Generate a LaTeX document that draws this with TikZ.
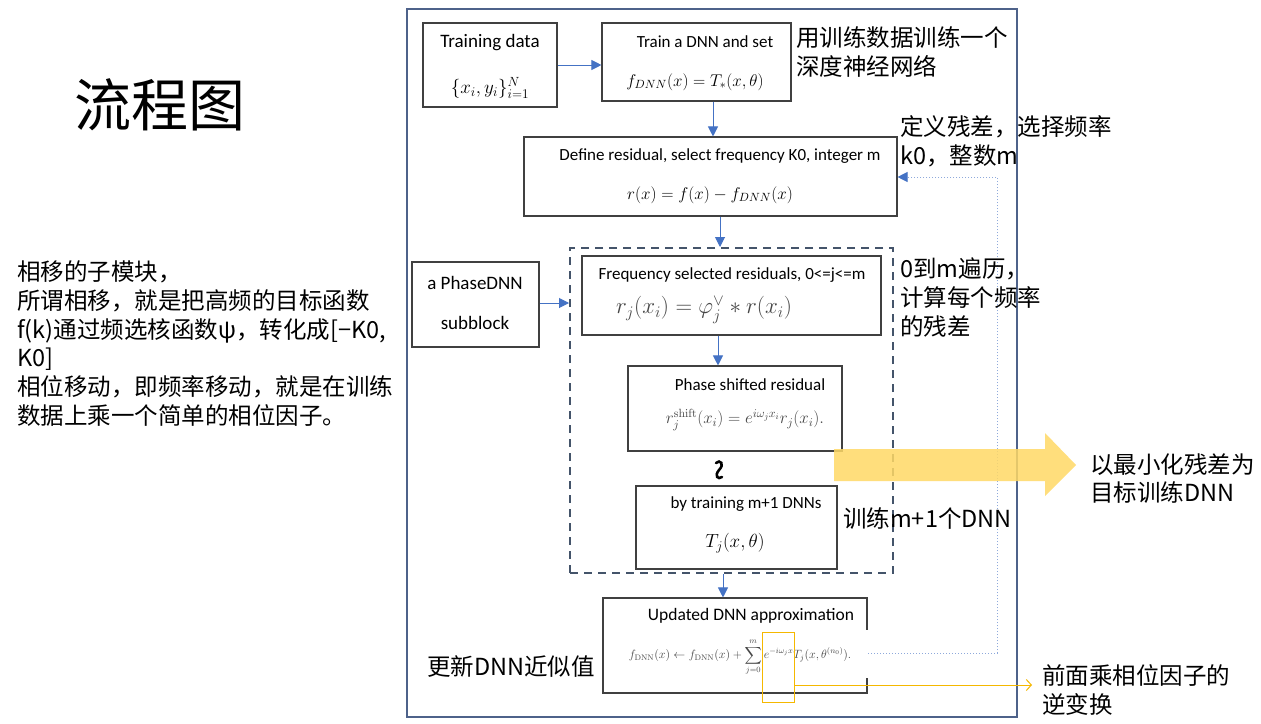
\RequirePackage{fix-cm}
\documentclass[tikz,border=0pt]{standalone}
\usepackage{amsmath}
\usepackage[no-math]{fontspec}
\setmainfont{Carlito}
\newfontfamily\cjk{Noto Sans CJK SC}
\usetikzlibrary{arrows.meta}
\definecolor{arrblue}{RGB}{68,114,196}
\definecolor{framec}{RGB}{78,98,138}
\definecolor{dashc}{RGB}{68,84,106}
\definecolor{boxc}{RGB}{64,64,64}
\definecolor{fbcol}{RGB}{142,169,219}
\definecolor{hlc}{RGB}{245,184,0}
\definecolor{bigy}{RGB}{255,217,102}
\definecolor{mgray}{RGB}{70,70,70}
\newcommand\fsz[1]{\fontsize{#1}{#1}\selectfont}
\begin{document}
\begin{tikzpicture}[x=1pt,y=-1pt,
  box/.style={draw=boxc,line width=1.1pt,inner sep=0pt},
  txt/.style={inner sep=0pt,text=black},
  gm/.style={inner sep=0pt,text=mgray},
  cn/.style={inner sep=0pt,anchor=west,align=left,text=black,font=\cjk\fontsize{23.5}{28.8}\selectfont},
  arr/.style={draw=arrblue,line width=1pt,-{Triangle[width=10pt,length=10pt]}},
  fb/.style={draw=fbcol,line width=1pt,dotted,-{Triangle[width=10pt,length=10pt,color=arrblue]}}]
\useasboundingbox (0,0) rectangle (1261,723);
\fill[white] (0,0) rectangle (1261,723);

% outer frame
\node[draw=framec,line width=2pt,minimum width=610pt,minimum height=708pt,inner sep=0pt] (frame) at (712,363) {};

% title and left text
\node[txt,font=\cjk\fsz{57}] (title) at (160,105) {流程图};
\node[cn] (lefttext) at (17,343.5) {相移的子模块，\\所谓相移，就是把高频的目标函数\\f(k)通过频选核函数ψ，转化成[−K0,\\K0]\\相位移动，即频率移动，就是在训练\\数据上乘一个简单的相位因子。};

% boxes
\node[box,minimum width=134pt,minimum height=84pt] (td) at (490,65) {};
\node[box,minimum width=189pt,minimum height=78pt] (tr) at (696.5,62) {};
\node[box,minimum width=373pt,minimum height=79pt] (dr) at (710.5,176.5) {};
\node[draw=dashc,line width=2pt,dash pattern=on 8pt off 6pt,minimum width=323pt,minimum height=325pt,inner sep=0pt] (dash) at (731.5,410.5) {};
\node[box,minimum width=299pt,minimum height=79pt] (fq) at (731.5,295.5) {};
\node[box,minimum width=214pt,minimum height=85pt] (ps) at (735,408.5) {};
\node[box,minimum width=201pt,minimum height=83pt] (tm) at (736.5,527.5) {};
\node[box,minimum width=264pt,minimum height=95pt] (up) at (735,645.5) {};
\node[box,minimum width=127pt,minimum height=85pt] (pd) at (475.5,304.5) {};

% box texts
\node[txt,font=\fsz{19}] at (490,43) {Training data};
\node[txt,font=\fsz{19}] at (490,88) {$\{x_i,y_i\}_{i=1}^{N}$};
\node[txt,font=\fsz{17}] at (705,42) {Train a DNN and set};
\node[txt,font=\fsz{17}] at (695,82) {$f_{DNN}(x)=T_{*}(x,\theta)$};
\node[txt,font=\fsz{17}] at (720,156) {Define residual, select frequency K0, integer m};
\node[txt,font=\fsz{17}] at (710,195) {$r(x)=f(x)-f_{DNN}(x)$};
\node[txt,font=\fsz{17}] at (732,275) {Frequency selected residuals, 0<=j<=m};
\node[gm,font=\fsz{23}] at (704,310) {$r_j(x_i)=\varphi_j^{\vee}*r(x_i)$};
\node[txt,font=\fsz{17}] at (750,385) {Phase shifted residual};
\node[gm,font=\fsz{17}] at (745,420) {$r_j^{\mathrm{shift}}(x_i)=e^{i\omega_j x_i}r_j(x_i).$};
\node[txt,font=\fsz{17}] at (746,504) {by training m+1 DNNs};
\node[txt,font=\fsz{19}] at (735,543) {$T_j(x,\theta)$};
\node[txt,font=\fsz{17.5}] at (751,616) {Updated DNN approximation};
\fill[white] (618,630) rectangle (870,678);
\node[gm,font=\fsz{12}] at (740,657) {$\displaystyle f_{\mathrm{DNN}}(x)\leftarrow f_{\mathrm{DNN}}(x)+\sum_{j=0}^{m}e^{-i\omega_j x}T_j(x,\theta^{(n_0)}).$};
\node[txt,font=\fsz{19}] at (475,283) {a PhaseDNN};
\node[txt,font=\fsz{19}] at (475,323) {subblock};

% squiggle between the two boxes
\draw[line width=2.6pt,line cap=round] (716,463) .. controls (720,459) and (725,464) .. (719,470) .. controls (714,476) and (718,480) .. (722,477);

% arrows
\coordinate (xa) at (713,0);
\coordinate (xb) at (720,0);
\coordinate (xc) at (718,0);
\coordinate (xd) at (723,0);
\draw[arr] (td.east |- 0,65) -- (tr.west |- 0,65);
\draw[arr] (tr.south -| xa) -- (dr.north -| xa);
\draw[arr] (dr.south -| xb) -- (dash.north -| xb);
\draw[arr] (fq.south -| xc) -- (ps.north -| xc);
\draw[arr] (dash.south -| xd) -- (up.north -| xd);
\draw[arr] (pd.east |- 0,303) -- (dash.west |- 0,303);

% feedback
\coordinate (fbs) at (868,653);
\coordinate (fbt) at (997,177);
\draw[fb] (fbs) -| (fbt) -- (fbt -| dr.east);

% highlight
\node[draw=hlc,line width=1pt,minimum width=32pt,minimum height=70pt,inner sep=0pt] (hl) at (778,667) {};
\coordinate (hle) at (1032,685);
\draw[draw=hlc,line width=1pt,-{Straight Barb[length=5pt,width=11pt]}] (hl.east |- hle) -- (hle);

% big yellow arrow
\fill[bigy,fill opacity=0.85] (834,449) -- (1045,449) -- (1045,433) -- (1076,465) -- (1045,496) -- (1045,481) -- (834,481) -- cycle;

% annotations
\node[cn] (a1) at (796,52) {用训练数据训练一个\\深度神经网络};
\node[cn] (a2) at (900,141.5) {定义残差，选择频率\\k0，整数m};
\node[cn] (a3) at (900,297.5) {0到m遍历，\\计算每个频率\\的残差};
\node[cn] (a4) at (1090,478.5) {以最小化残差为\\目标训练DNN};
\node[cn] (a5) at (843,518) {训练m+1个DNN};
\node[cn] (a6) at (427,667) {更新DNN近似值};
\node[cn] (a7) at (1042,690) {前面乘相位因子的\\逆变换};
\end{tikzpicture}
\end{document}
